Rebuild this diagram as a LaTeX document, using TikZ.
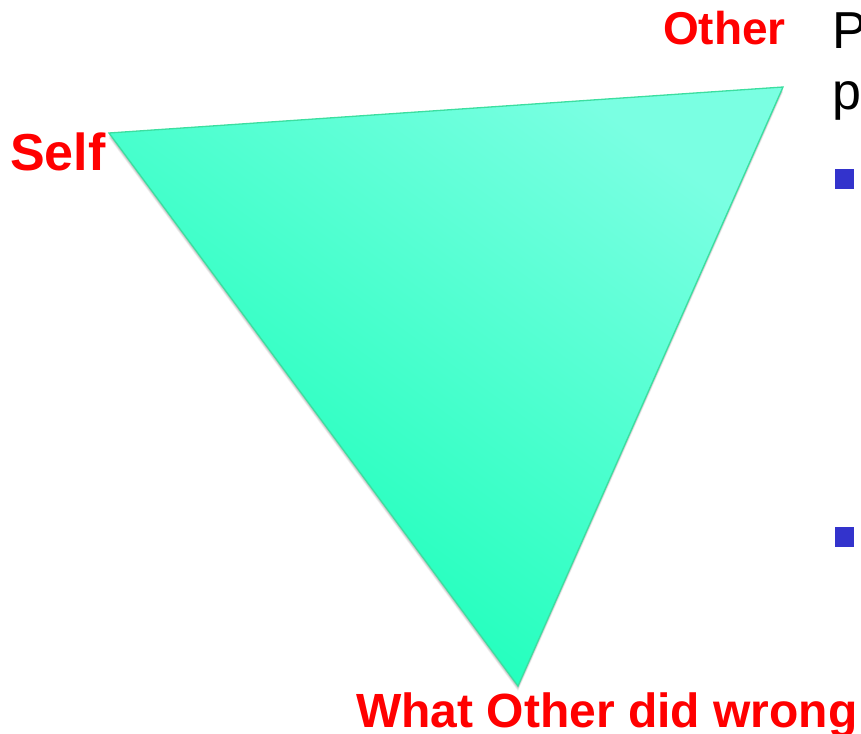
\documentclass[tikz,border=0pt]{standalone}
\usepackage{fontspec}
\setmainfont{Liberation Sans}
\definecolor{tridark}{RGB}{18,255,182}
\definecolor{trilight}{RGB}{122,255,226}
\definecolor{triedge}{RGB}{60,222,160}
\definecolor{bulletblue}{RGB}{51,51,204}
\definecolor{labred}{RGB}{255,0,0}
\tikzset{
  lab/.style={inner sep=0pt, anchor=base west, text=labred, font=\bfseries},
  body/.style={inner sep=0pt, anchor=base west, text=black},
  bulletsq/.style={fill=bulletblue, draw=none},
}
\begin{document}
\begin{tikzpicture}[x=1pt,y=-1pt]
\useasboundingbox (0,0) rectangle (861,733);
\coordinate (S) at (109,133);
\coordinate (O) at (783,87);
\coordinate (B) at (518,686);
% soft shadow
\foreach \d/\o in {5/0.05,4/0.06,3/0.07,2/0.08}{
  \fill[black,opacity=\o] ([yshift=-\d]S) -- ([yshift=-\d]O) -- ([yshift=-\d]B) -- cycle;
}
\shade[left color=trilight, middle color=tridark!72!trilight, right color=tridark, shading angle=-36]
  (S) -- (O) -- (B) -- cycle;
\draw[triedge, line width=1.3pt, line join=miter] (S) -- (O) -- (B) -- cycle;
% labels
\node[lab] (lother) at (663,45) {\fontsize{46}{50}\selectfont Other};
\node[lab] (lself) at (10,170) {\fontsize{52}{56}\selectfont Self};
\node[lab] (lwrong) at (356,727) {\fontsize{48}{52}\selectfont What Other did wrong};
% right side text
\node[body] (tP) at (832,49) {\fontsize{52}{56}\selectfont P};
\node[body] (tp) at (832,110) {\fontsize{52}{56}\selectfont p};
% bullets
\fill[bulletsq] (835,169) rectangle (854,189);
\fill[bulletsq] (835,527) rectangle (854,547);
\end{tikzpicture}
\end{document}
